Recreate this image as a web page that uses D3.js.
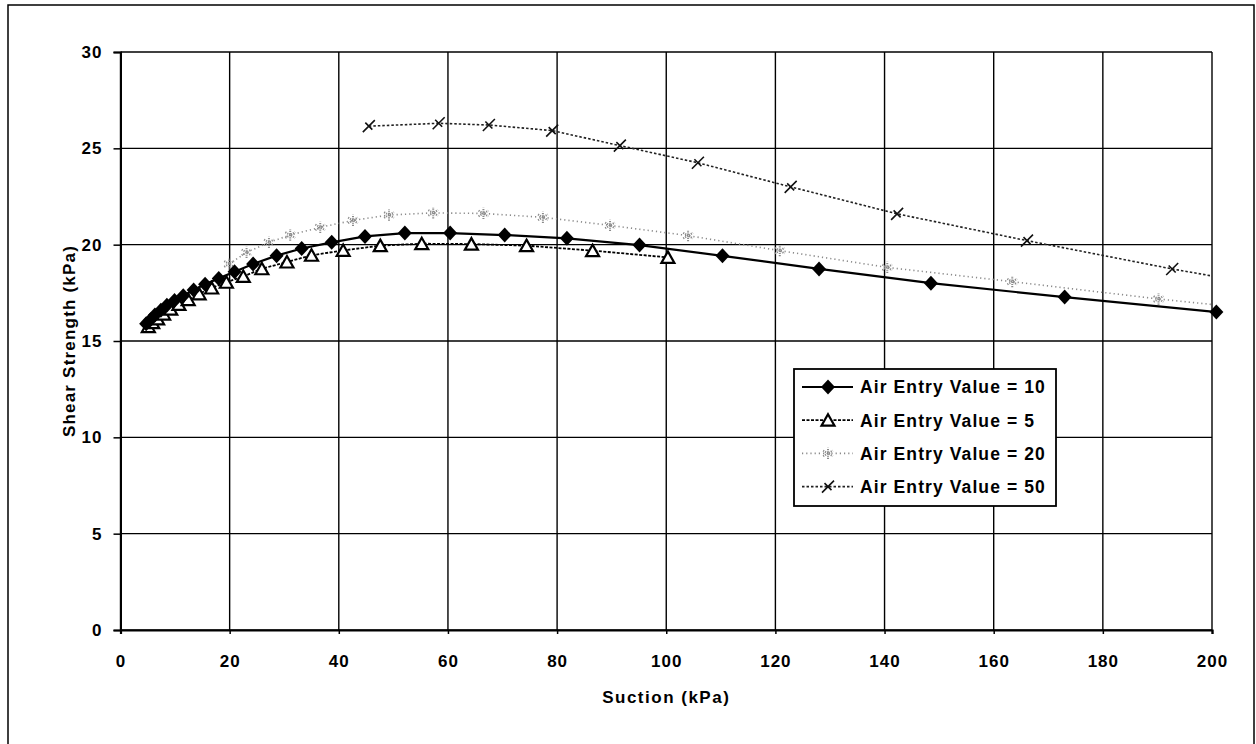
<!DOCTYPE html>
<html><head><meta charset="utf-8">
<script src="https://cdn.jsdelivr.net/npm/d3@7"></script>
<style>
body{margin:0;background:#fff}
svg{display:block}
text{font-family:"Liberation Sans",Arial,sans-serif;font-weight:bold;fill:#000}
</style>
</head><body><svg id="c" width="1256" height="744"></svg>
<script>
// ---- data ----
const xTicks = [0,20,40,60,80,100,120,140,160,180,200];
const yTicks = [0,5,10,15,20,25,30];
const xTitle = "Suction (kPa)";
const yTitle = "Shear Strength (kPa)";

const seriesNames = ["Air Entry Value = 10","Air Entry Value = 5","Air Entry Value = 20","Air Entry Value = 50"];

const suction10  = [4.7,5.5,6.3,7.4,8.5,9.9,11.5,13.4,15.5,18.0,20.9,24.3,28.6,33.2,38.7,44.8,52.1,60.4,70.4,81.8,95.1,110.3,128.0,148.5,173.0,200.8];
const strength10 = [15.9,16.1,16.35,16.6,16.85,17.1,17.35,17.65,17.95,18.25,18.6,19.0,19.43,19.8,20.12,20.43,20.6,20.6,20.5,20.33,19.98,19.42,18.74,18.0,17.28,16.5];

const suction5   = [5.1,5.9,6.8,7.9,9.2,10.7,12.4,14.4,16.7,19.4,22.5,25.9,30.5,35.0,40.8,47.6,55.2,64.3,74.4,86.5,100.3];
const strength5  = [15.75,15.95,16.15,16.4,16.65,16.9,17.15,17.45,17.75,18.05,18.35,18.75,19.1,19.45,19.7,19.95,20.05,20.03,19.95,19.69,19.34];

const suction20  = [19.9,23.1,27.2,31.1,36.6,42.6,49.2,57.3,66.5,77.4,89.7,104.0,120.8,140.5,163.4,190.2,220.6];
const strength20 = [19.0,19.6,20.12,20.5,20.9,21.26,21.54,21.65,21.62,21.42,21.0,20.47,19.69,18.82,18.08,17.18,16.3];

const suction50  = [45.5,58.3,67.5,79.1,91.5,105.8,122.8,142.3,166.1,192.7,223.5];
const strength50 = [26.15,26.3,26.21,25.92,25.14,24.25,23.0,21.6,20.21,18.74,17.2];

// ---- drawing ----
const svg = d3.select("#c");
const W = 1256, H = 744;
const x = d3.scaleLinear().domain([0,200]).range([120.5,1212]);
const y = d3.scaleLinear().domain([0,30]).range([630,52]);

// outer frame
svg.append("rect").attr("x",8).attr("y",5).attr("width",W-10).attr("height",H-3)
  .attr("fill","#fff").attr("stroke","#000").attr("stroke-width",1.5);

// gridlines
const grid = svg.append("g");
grid.selectAll("line.v").data(xTicks).join("line")
  .attr("x1",d=>x(d)).attr("x2",d=>x(d)).attr("y1",y(0)).attr("y2",y(30))
  .attr("stroke","#000").attr("stroke-width",1.4);
grid.selectAll("line.h").data(yTicks).join("line")
  .attr("y1",d=>y(d)).attr("y2",d=>y(d)).attr("x1",x(0)).attr("x2",x(200))
  .attr("stroke","#000").attr("stroke-width",1.4);

// axes
const xAxis = svg.append("g").attr("transform",`translate(0,${y(0)})`)
  .call(d3.axisBottom(x).tickValues(xTicks).tickSize(4).tickPadding(21));
xAxis.select(".domain").attr("stroke-width",2.2);
xAxis.selectAll(".tick line").attr("stroke-width",1.5);
xAxis.selectAll("text").attr("font-size",17).attr("letter-spacing","1px")
  .style("font-family",'"Liberation Sans",Arial,sans-serif').style("font-weight","bold");

const yAxis = svg.append("g").attr("transform",`translate(${x(0)},0)`)
  .call(d3.axisLeft(y).tickValues(yTicks).tickSize(7).tickPadding(11));
yAxis.select(".domain").attr("stroke-width",2);
yAxis.selectAll(".tick line").attr("stroke-width",1.5);
yAxis.selectAll("text").attr("font-size",17).attr("letter-spacing","1px")
  .style("font-family",'"Liberation Sans",Arial,sans-serif').style("font-weight","bold");

// axis titles
svg.append("text").attr("x",(x(0)+x(200))/2).attr("y",703).attr("text-anchor","middle")
  .attr("font-size",17).attr("letter-spacing","1.5px").text(xTitle);
svg.append("text").attr("transform",`translate(75,${(y(0)+y(30))/2}) rotate(-90)`)
  .attr("text-anchor","middle").attr("font-size",17).attr("letter-spacing","1.2px").text(yTitle);

// clip
svg.append("clipPath").attr("id","clip").append("rect")
  .attr("x",x(0)).attr("y",y(30)).attr("width",x(200)-x(0)).attr("height",y(0)-y(30));

const line = d3.line().x(d=>x(d[0])).y(d=>y(d[1]));
const zip = (a,b)=>a.map((v,i)=>[v,b[i]]);

const styles = [
  {stroke:"#000", width:2.2, dash:null},
  {stroke:"#000", width:1.8, dash:"3,1.5"},
  {stroke:"#8a8a8a", width:1.6, dash:"1.2,3"},
  {stroke:"#222", width:1.6, dash:"2.5,2"}
];
const data = [zip(suction10,strength10), zip(suction5,strength5), zip(suction20,strength20), zip(suction50,strength50)];

// marker drawers
function drawMarker(g, k){
  if(k===0){
    g.append("path").attr("d","M0,-7.5L7,0L0,7.5L-7,0Z").attr("fill","#000");
  } else if(k===1){
    g.append("path").attr("d","M0,-6L6.5,5.5L-6.5,5.5Z").attr("fill","#fff").attr("stroke","#000").attr("stroke-width",2.2);
  } else if(k===2){
    g.append("path").attr("d",d3.symbol().type(d3.symbolAsterisk).size(90)())
      .attr("fill","none").attr("stroke","#8a8a8a").attr("stroke-width",2).attr("stroke-dasharray","1.2,1");
  } else {
    g.append("path").attr("d","M-6,6L6,-6M-3.5,-3.5L3.5,3.5")
      .attr("fill","none").attr("stroke","#111").attr("stroke-width",1.6);
  }
}

// draw series: order so series 10 on top
[3,2,1,0].forEach(k=>{
  const s = styles[k];
  svg.append("path").datum(data[k]).attr("clip-path","url(#clip)")
    .attr("d",line).attr("fill","none").attr("stroke",s.stroke).attr("stroke-width",s.width)
    .attr("stroke-dasharray",s.dash);
  const mg = svg.append("g");
  data[k].filter(d=>d[0]<=201).forEach(d=>{
    const g = mg.append("g").attr("transform",`translate(${x(d[0])},${y(d[1])})`);
    drawMarker(g,k);
  });
});

// legend
const lg = svg.append("g");
lg.append("rect").attr("x",794).attr("y",369).attr("width",262).attr("height",137)
  .attr("fill","#fff").attr("stroke","#000").attr("stroke-width",1.8);
seriesNames.forEach((name,k)=>{
  const ry = 387 + k*33.2;
  const s = styles[k];
  lg.append("line").attr("x1",802).attr("x2",853).attr("y1",ry).attr("y2",ry)
    .attr("stroke",s.stroke).attr("stroke-width",s.width).attr("stroke-dasharray",s.dash);
  drawMarker(lg.append("g").attr("transform",`translate(828,${ry})`),k);
  lg.append("text").attr("x",860).attr("y",ry).attr("dy","0.36em")
    .attr("font-size",17.5).attr("letter-spacing","1.1px").text(name);
});
</script></body></html>
